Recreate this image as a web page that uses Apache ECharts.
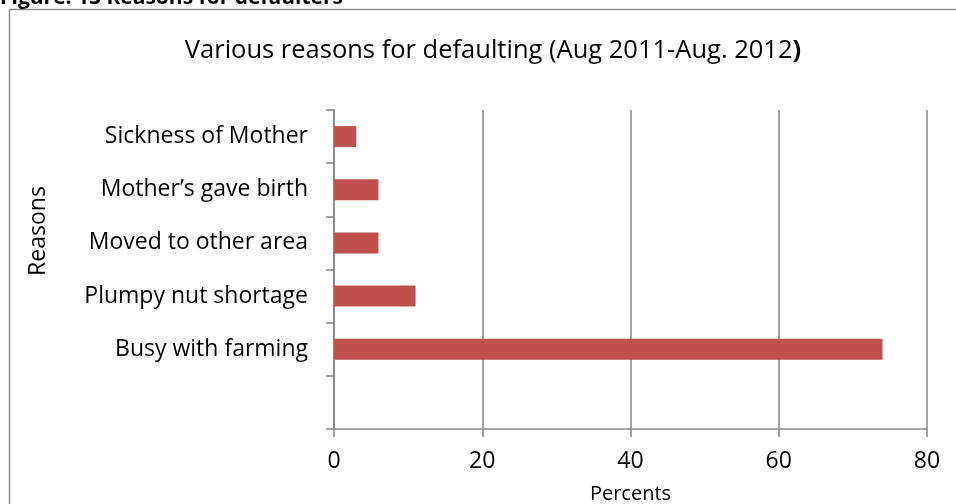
<!DOCTYPE html>
<html>
<head>
<meta charset="utf-8">
<script src="https://cdn.jsdelivr.net/npm/echarts@6/dist/echarts.min.js"></script>
<style>
  html, body { margin: 0; padding: 0; background: #ffffff; }
  #chart { width: 956px; height: 504px; }
</style>
</head>
<body>
<div id="chart"></div>
<script>
// Reasons for defaulting, bottom to top (first slot is left empty)
const reasons = ['', 'Busy with farming', 'Plumpy nut shortage', 'Moved to other area', 'Mother\u2019s gave birth', 'Sickness of Mother'];
const percents = [null, 74, 11, 6, 6, 3];
const percentTicks = { min: 0, max: 80, interval: 20 };

const FONT = '"Open Sans", "Liberation Sans", sans-serif';
const GREY = '#868686';

const chart = echarts.init(document.getElementById('chart'), null, { renderer: 'canvas' });

chart.setOption({
  backgroundColor: '#ffffff',
  animation: false,
  title: {
    text: 'Various reasons for defaulting (Aug 2011-Aug. 2012{b|)}',
    left: 488,
    top: 33,
    textAlign: 'center',
    textStyle: {
      fontFamily: FONT,
      fontSize: 25.5,
      fontWeight: 'normal',
      color: '#000000',
      rich: { b: { fontFamily: FONT, fontSize: 25.5, fontWeight: 'bold', color: '#000000' } }
    }
  },
  graphic: [
    {
      type: 'rect',
      shape: { x: 9.5, y: 9.5, width: 1000, height: 600 },
      style: { fill: 'none', stroke: '#8c8c8c', lineWidth: 1.5 },
      silent: true
    },
    {
      type: 'text',
      left: 0,
      top: -12,
      style: {
        text: 'Figure: 13 Reasons for defaulters',
        font: 'bold 21px ' + FONT,
        fill: '#000000'
      },
      silent: true
    },
    {
      // vertical axis title
      type: 'text',
      x: 38,
      y: 231,
      rotation: Math.PI / 2,
      style: {
        text: 'Reasons',
        font: '23px ' + FONT,
        fill: '#000000',
        align: 'center',
        verticalAlign: 'middle'
      },
      silent: true
    }
  ],
  grid: {
    left: 334,
    right: 29,
    top: 110,
    bottom: 75,
    containLabel: false,
    outerBoundsMode: 'none'
  },
  xAxis: {
    type: 'value',
    min: percentTicks.min,
    max: percentTicks.max,
    interval: percentTicks.interval,
    name: 'Percents',
    nameLocation: 'middle',
    nameGap: 55,
    nameTextStyle: { fontFamily: FONT, fontSize: 20, color: '#000000' },
    axisLine: { show: true, lineStyle: { color: GREY, width: 1.5 } },
    axisTick: { show: true, length: 8, lineStyle: { color: GREY, width: 1.5 } },
    axisLabel: { fontFamily: FONT, fontSize: 23, color: '#000000', margin: 21 },
    splitLine: { show: true, lineStyle: { color: GREY, width: 1.5 } }
  },
  yAxis: {
    type: 'category',
    data: reasons,
    axisLine: { show: true, lineStyle: { color: GREY, width: 1.5 } },
    axisTick: { show: true, length: 8, inside: false, lineStyle: { color: GREY, width: 1.5 } },
    axisLabel: { fontFamily: FONT, fontSize: 23, color: '#000000', margin: 26 },
    splitLine: { show: false }
  },
  series: [
    {
      type: 'bar',
      data: percents,
      barWidth: 21,
      itemStyle: { color: '#C0504D' }
    }
  ]
});
</script>
</body>
</html>
